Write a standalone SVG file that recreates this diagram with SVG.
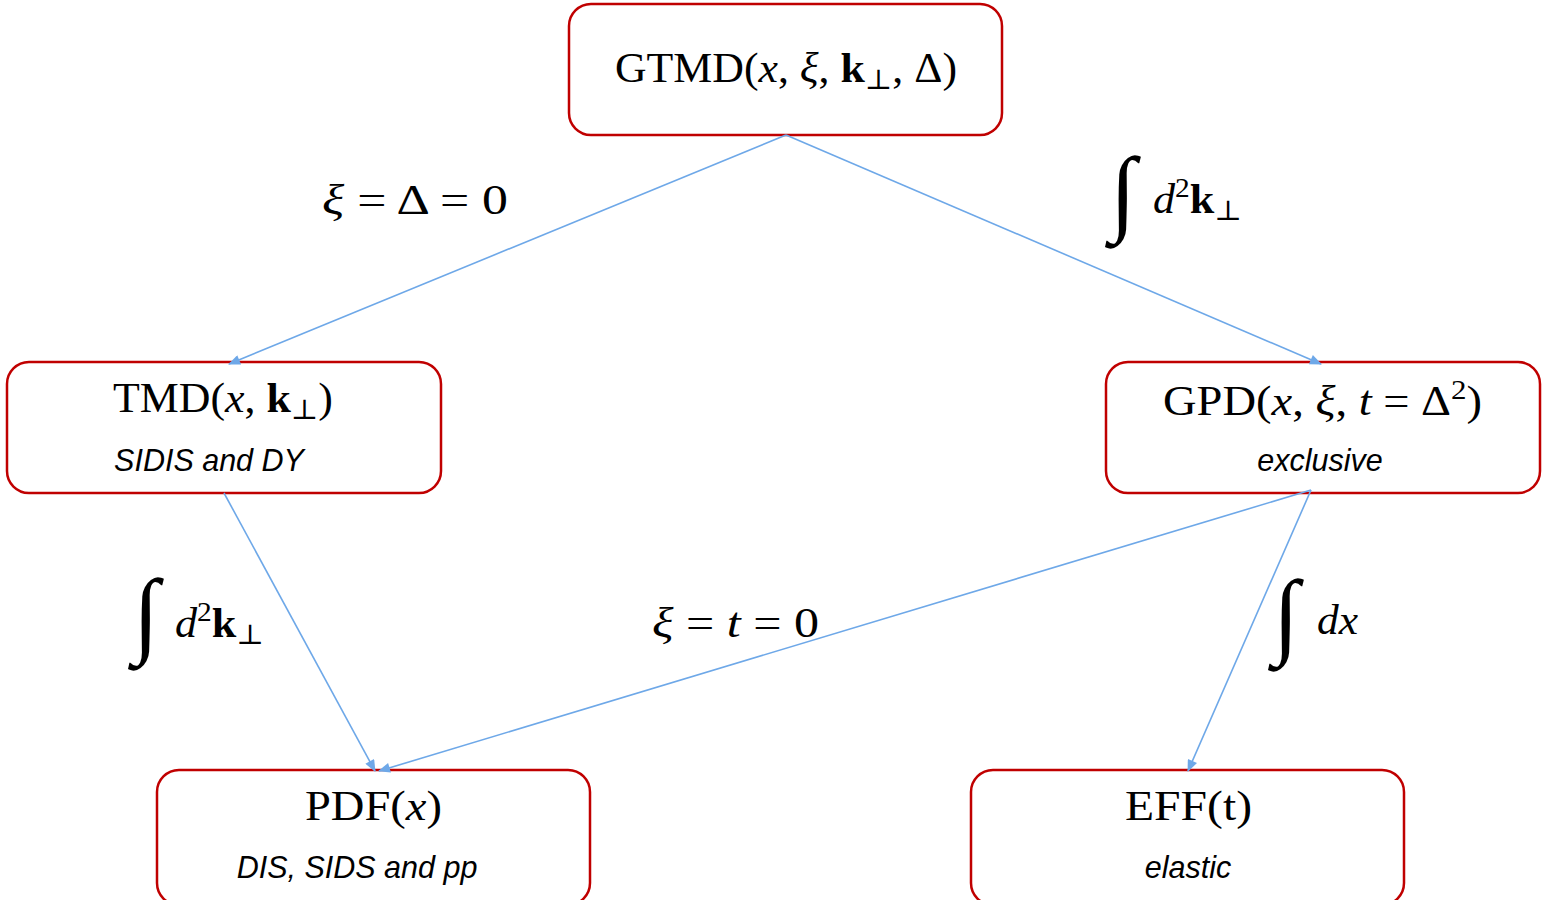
<svg xmlns="http://www.w3.org/2000/svg" width="1542" height="900" viewBox="0 0 1542 900">
<style>
.box{fill:#fff;stroke:#c00000;stroke-width:2.5}
.m{font-family:"Liberation Serif","DejaVu Serif",serif;font-size:42px;fill:#000}
.i{font-style:italic}
.b{font-weight:bold}
.sub{font-size:28px}
.sup{font-size:28px}
.cap{font-family:"Liberation Sans",Arial,sans-serif;font-size:30.5px;font-style:italic;fill:#000;text-anchor:middle}
.int{font-family:"Liberation Serif",serif;font-size:95px;fill:#000}
.edge{stroke:#6ea8e8;stroke-width:1.6;fill:none;marker-end:url(#ah)}
</style>
<defs>
<marker id="ah" viewBox="0 0 12 10" refX="11" refY="5" markerWidth="13" markerHeight="10" markerUnits="userSpaceOnUse" orient="auto">
<path d="M0,0 L12,5 L0,10 z" fill="#6ea8e8"/>
</marker>
</defs>
<rect width="1542" height="900" fill="#fff"/>
<g id="gtmd">
<rect class="box" x="569" y="4" width="433" height="131" rx="22"/>
<text class="m" x="615" y="82" textLength="342" lengthAdjust="spacingAndGlyphs">GTMD(<tspan class="i">x</tspan>, <tspan class="i">ξ</tspan>, <tspan class="b">k</tspan><tspan class="sub" dy="7">⊥</tspan><tspan dy="-7">, Δ)</tspan></text>
</g>
<g id="tmd">
<rect class="box" x="7" y="362" width="434" height="131" rx="22"/>
<text class="m" x="113" y="412" textLength="220" lengthAdjust="spacingAndGlyphs">TMD(<tspan class="i">x</tspan>, <tspan class="b">k</tspan><tspan class="sub" dy="7">⊥</tspan><tspan dy="-7">)</tspan></text>
<text class="cap" x="209" y="471">SIDIS and DY</text>
</g>
<g id="gpd">
<rect class="box" x="1106" y="362" width="434" height="131" rx="22"/>
<text class="m" x="1163" y="415" textLength="319" lengthAdjust="spacingAndGlyphs">GPD(<tspan class="i">x</tspan>, <tspan class="i">ξ</tspan>, <tspan class="i">t</tspan> = Δ<tspan class="sup" dy="-16">2</tspan><tspan dy="16">)</tspan></text>
<text class="cap" x="1320" y="471">exclusive</text>
</g>
<g id="pdf">
<rect class="box" x="157" y="770" width="433" height="135" rx="22"/>
<text class="m" x="305" y="820" textLength="137" lengthAdjust="spacingAndGlyphs">PDF(<tspan class="i">x</tspan>)</text>
<text class="cap" x="357" y="878">DIS, SIDS and pp</text>
</g>
<g id="eff">
<rect class="box" x="971" y="770" width="433" height="135" rx="22"/>
<text class="m" x="1125" y="820" textLength="127" lengthAdjust="spacingAndGlyphs">EFF(t)</text>
<text class="cap" x="1188" y="878">elastic</text>
</g>
<g id="connectors">
<line class="edge" x1="786" y1="135" x2="229" y2="364"/>
<line class="edge" x1="786" y1="135" x2="1321" y2="364"/>
<line class="edge" x1="224" y1="493" x2="375" y2="771"/>
<line class="edge" x1="1311" y1="490" x2="379" y2="771"/>
<line class="edge" x1="1311" y1="490" x2="1188" y2="771"/>
</g>
<g id="labels">
<text class="m" x="322" y="214" textLength="186" lengthAdjust="spacingAndGlyphs"><tspan class="i">ξ</tspan> = Δ = 0</text>
<text class="m" x="652" y="637" textLength="167" lengthAdjust="spacingAndGlyphs"><tspan class="i">ξ</tspan> = <tspan class="i">t</tspan> = 0</text>
<text class="int" x="1110" y="223">∫</text>
<text class="m" x="1153" y="213" textLength="89" lengthAdjust="spacingAndGlyphs"><tspan class="i">d</tspan><tspan class="sup" dy="-16">2</tspan><tspan class="b" dy="16">k</tspan><tspan class="sub" dy="7">⊥</tspan></text>
<text class="int" x="133" y="645">∫</text>
<text class="m" x="175" y="637" textLength="89" lengthAdjust="spacingAndGlyphs"><tspan class="i">d</tspan><tspan class="sup" dy="-16">2</tspan><tspan class="b" dy="16">k</tspan><tspan class="sub" dy="7">⊥</tspan></text>
<text class="int" x="1273" y="646">∫</text>
<text class="m i" x="1317" y="634" textLength="41" lengthAdjust="spacingAndGlyphs">dx</text>
</g>
</svg>
